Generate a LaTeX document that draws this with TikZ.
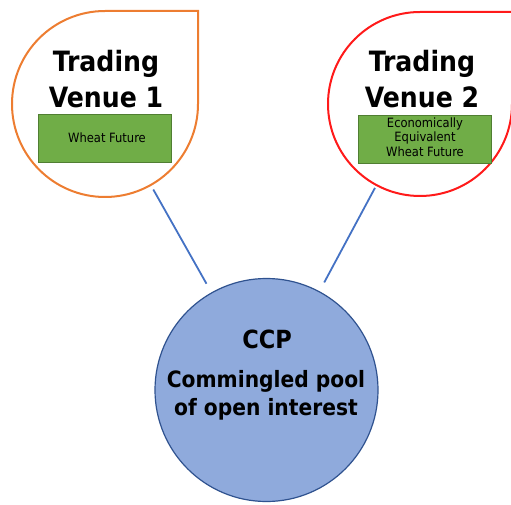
\documentclass[tikz,border=0pt]{standalone}
\usepackage{fontspec}
\setmainfont{DejaVu Sans Condensed}
\usetikzlibrary{shapes.misc}
\definecolor{tvorange}{HTML}{ED7D31}
\definecolor{tvred}{HTML}{FF1A1A}
\definecolor{boxgreen}{HTML}{70AD47}
\definecolor{boxedge}{HTML}{507E32}
\definecolor{linkblue}{HTML}{4472C4}
\definecolor{ccpfill}{HTML}{8FAADC}
\definecolor{ccpedge}{HTML}{2F528F}
\begin{document}
\begin{tikzpicture}[x=1pt,y=1pt,
  title/.style={font=\fontsize{28}{34}\selectfont\bfseries, inner sep=0pt, anchor=base},
  small/.style={font=\fontsize{12.8}{14}\selectfont, inner sep=0pt, anchor=base},
  ccptext/.style={font=\fontsize{22.5}{28}\selectfont\bfseries, inner sep=0pt, anchor=base},
  anchorcircle/.style={circle, inner sep=0pt, draw=none},
  greenbox/.style={fill=boxgreen, draw=boxedge, line width=1pt, inner sep=0pt, minimum width=133pt, minimum height=48pt},
  conn/.style={draw=linkblue, line width=1.8pt},
  drop/.style={line width=2pt, fill=white}]
\useasboundingbox (0,0) rectangle (511,504);
% teardrops
\node[anchorcircle, minimum size=186pt] (tv1) at (105,400) {};
\node[anchorcircle, minimum size=184pt] (tv2) at (420,400) {};
\draw[drop, draw=tvorange] (105,493) -- (198,493) -- (198,400) arc[start angle=0, end angle=-270, radius=93pt] -- cycle;
\draw[drop, draw=tvred] (420,492) -- (514,492) -- (514,400) -- (512,400) arc[start angle=0, end angle=-270, radius=92pt] -- cycle;
% CCP
\node[circle, fill=ccpfill, draw=ccpedge, line width=1.2pt, minimum size=223pt, inner sep=0pt] (ccp) at (266.5,114) {};
% connectors
\draw[conn, shorten <=5pt, shorten >=10pt] (tv1) -- (ccp);
\draw[conn, shorten <=3pt, shorten >=10pt] (tv2) -- (ccp);
% titles
\node[title] (t1a) at (106,432) {Trading};
\node[title] (t1b) at (106,396) {Venue 1};
\node[title] (t2a) at (422,432) {Trading};
\node[title] (t2b) at (422,396) {Venue 2};
% green boxes
\node[greenbox, rectangle] (b1) at (104.5,365.5) {};
\node[small] (b1t) at (107,361) {Wheat Future};
\node[greenbox, chamfered rectangle, chamfered rectangle xsep=7pt, chamfered rectangle ysep=7pt, chamfered rectangle corners={north west, north east}] (b2) at (424.5,364) {};
\node[small] (b2a) at (425,376) {Economically};
\node[small] (b2b) at (425,362) {Equivalent};
\node[small] (b2c) at (425,347.5) {Wheat Future};
% CCP text
\node[ccptext, font=\fontsize{25}{28}\selectfont\bfseries] (c1) at (267,156) {CCP};
\node[ccptext] (c2) at (266,117) {Commingled pool};
\node[ccptext] (c3) at (266,89) {of open interest};
\end{tikzpicture}
\end{document}
